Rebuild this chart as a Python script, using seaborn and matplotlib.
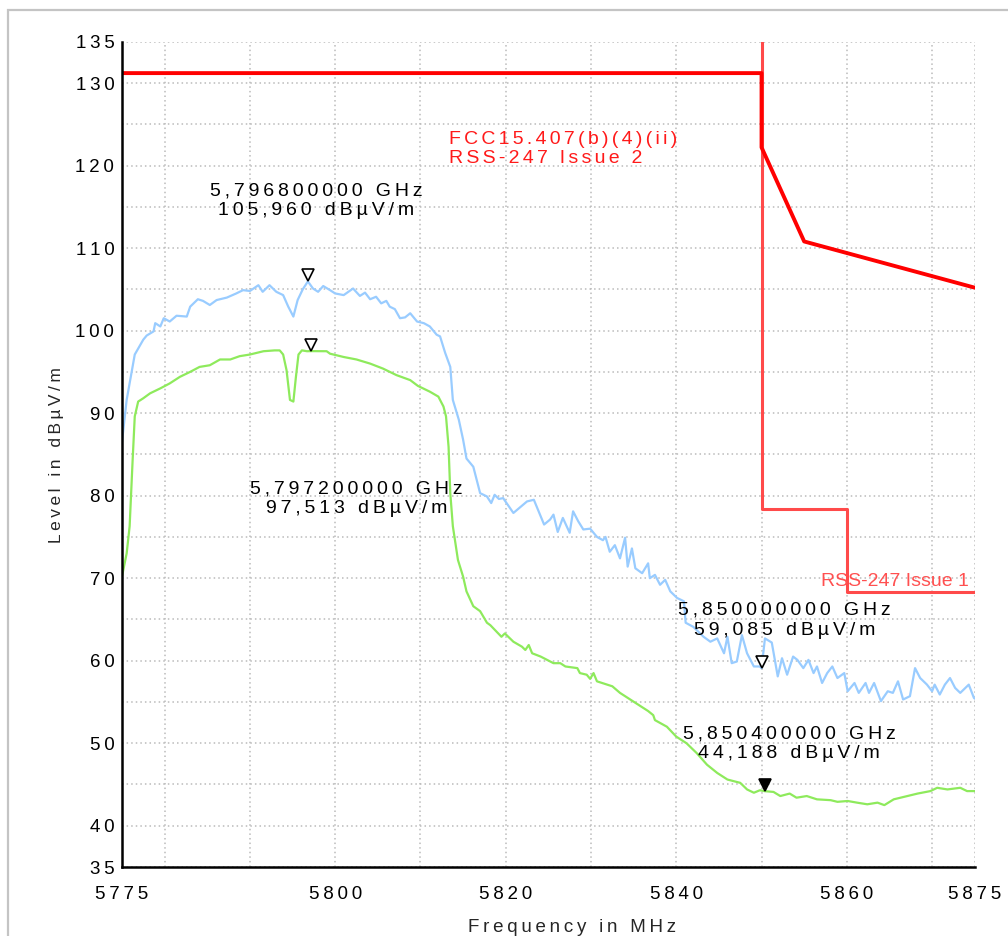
"""
Radiated emission plot - band edge 5775..5875 MHz
peak (blue) and average (green) traces with FCC / RSS-247 limit lines
"""
import pandas as pd
import matplotlib.pyplot as plt
import matplotlib.patches as mpatches
from matplotlib.transforms import offset_copy
import seaborn as sns

BLUE   = "#99CCFF"
GREEN  = "#8EEA5C"
RED    = "#FF0000"
RED2   = "#FF4A4A"
GRID   = "#BBBBBB"
FRAME  = "#C4C4C4"

# ---- data ---------------------------------------------------------------
peak_f = [5775.0, 5775.55, 5776.5, 5777.5, 5777.9, 5778.7, 5778.9, 5779.5, 5779.9, 5780.6,
          5781.4, 5782.6, 5783.0, 5783.9, 5784.5, 5785.3, 5786.1, 5787.3, 5788.4, 5789.2,
          5790.0, 5791.0, 5791.5, 5792.3, 5793.1, 5793.9, 5794.5, 5795.1, 5795.6, 5796.2,
          5796.8, 5797.4, 5798.0, 5798.6, 5799.4, 5800.0, 5801.0, 5802.1, 5802.9, 5803.5,
          5804.1, 5804.8, 5805.4, 5806.0, 5806.4, 5807.0, 5807.6, 5808.2, 5808.8, 5809.6,
          5810.4, 5811.1, 5811.9, 5812.3, 5812.9, 5813.5, 5813.8, 5814.5, 5815.0, 5815.4,
          5816.2, 5817.0, 5817.8, 5818.3, 5818.7, 5819.2, 5819.7, 5820.3, 5820.9, 5821.7,
          5822.5, 5823.3, 5823.7, 5824.5, 5825.2, 5825.6, 5826.1, 5826.7, 5827.5, 5827.9,
          5828.5, 5829.1, 5829.9, 5830.7, 5831.4, 5831.7, 5832.2, 5832.8, 5833.4, 5834.0,
          5834.3, 5834.8, 5835.2, 5836.0, 5836.7, 5836.9, 5837.5, 5838.1, 5838.7, 5839.3,
          5840.1, 5840.9, 5841.1, 5842.0, 5843.2, 5844.0, 5844.8, 5845.6, 5846.0, 5846.5,
          5847.1, 5847.7, 5848.3, 5849.1, 5849.8, 5850.0, 5850.4, 5851.2, 5851.9, 5852.4,
          5853.0, 5853.7, 5854.2, 5854.9, 5855.5, 5856.1, 5856.5, 5857.1, 5857.7, 5858.3,
          5858.9, 5859.7, 5860.1, 5860.9, 5861.4, 5862.2, 5862.6, 5863.2, 5864.0, 5864.8,
          5865.4, 5866.0, 5866.6, 5867.4, 5868.0, 5868.6, 5869.4, 5870.0, 5870.3, 5870.9,
          5871.5, 5872.1, 5872.7, 5873.3, 5874.3, 5874.9, 5875.0]
peak_l = [86.5, 91.6, 97.1, 98.9, 99.4, 99.9, 100.9, 100.5, 101.5, 101.1,
          101.8, 101.7, 102.9, 103.8, 103.6, 103.1, 103.7, 104.0, 104.5, 104.9,
          104.8, 105.5, 104.7, 105.5, 104.7, 104.3, 102.9, 101.7, 103.7, 105.0,
          105.96, 105.1, 104.7, 105.4, 104.9, 104.5, 104.3, 105.1, 104.2, 104.6,
          103.8, 104.1, 103.3, 103.6, 102.9, 102.6, 101.5, 101.6, 102.1, 101.1,
          100.9, 100.5, 99.5, 99.3, 97.3, 95.6, 91.6, 89.2, 86.8, 84.5,
          83.5, 80.3, 79.9, 79.1, 80.1, 79.6, 79.7, 78.8, 77.9, 78.6,
          79.3, 79.5, 78.5, 76.5, 77.1, 77.7, 75.6, 77.3, 75.5, 78.1,
          76.9, 75.9, 76.0, 75.0, 74.6, 75.0, 73.2, 74.0, 72.4, 74.9,
          71.4, 73.6, 71.2, 70.6, 71.8, 70.0, 70.4, 69.2, 69.8, 68.4,
          67.6, 67.2, 64.6, 64.1, 62.9, 62.3, 62.7, 60.9, 62.9, 59.7,
          59.9, 63.1, 60.9, 59.3, 59.3, 59.085, 62.7, 62.2, 58.1, 60.3,
          58.3, 60.5, 60.1, 59.1, 60.1, 58.5, 59.3, 57.3, 58.5, 59.3,
          57.9, 58.5, 56.3, 57.3, 56.1, 57.3, 56.1, 57.3, 55.1, 56.3,
          56.1, 57.5, 55.3, 55.7, 59.1, 57.9, 57.1, 56.3, 57.1, 55.9,
          57.1, 57.9, 56.7, 56.1, 57.1, 55.5, 55.4]

avg_f = [5775.0, 5775.55, 5775.9, 5776.25, 5776.5, 5776.9, 5777.5, 5778.3, 5779.5, 5780.6,
         5781.8, 5783.0, 5784.1, 5785.3, 5786.5, 5787.7, 5788.8, 5790.0, 5791.6, 5792.9,
         5793.5, 5793.9, 5794.3, 5794.7, 5795.1, 5795.4, 5795.7, 5796.1, 5796.7, 5797.2,
         5799.0, 5799.4, 5801.0, 5802.5, 5804.1, 5805.6, 5807.2, 5808.8, 5809.7, 5811.1,
         5812.1, 5812.7, 5813.0, 5813.3, 5813.5, 5813.8, 5814.4, 5815.0, 5815.4, 5816.2,
         5817.0, 5817.8, 5818.2, 5819.5, 5819.9, 5820.9, 5821.9, 5822.3, 5822.7, 5823.1,
         5824.1, 5825.6, 5826.4, 5827.0, 5828.4, 5828.7, 5829.5, 5829.9, 5830.3, 5830.7,
         5831.9, 5832.5, 5833.4, 5834.6, 5835.8, 5836.7, 5837.3, 5837.5, 5838.9, 5840.0,
         5841.2, 5842.4, 5843.6, 5844.8, 5846.0, 5847.5, 5848.3, 5849.1, 5849.8, 5850.4,
         5851.4, 5852.2, 5853.3, 5854.1, 5855.3, 5856.5, 5858.1, 5858.9, 5860.1, 5861.2,
         5862.4, 5863.6, 5864.4, 5865.5, 5867.1, 5868.3, 5869.8, 5870.6, 5871.8, 5873.3,
         5874.1, 5875.0]
avg_l = [70.2, 73.0, 76.3, 84.3, 89.6, 91.4, 91.8, 92.4, 93.0, 93.6,
         94.4, 95.0, 95.6, 95.8, 96.5, 96.5, 96.9, 97.1, 97.5, 97.6,
         97.6, 97.1, 95.2, 91.6, 91.4, 94.4, 97.1, 97.6, 97.5, 97.513,
         97.5, 97.2, 96.8, 96.5, 96.0, 95.4, 94.6, 94.0, 93.3, 92.6,
         92.0, 90.8, 89.6, 85.9, 80.3, 76.3, 72.2, 70.2, 68.4, 66.6,
         66.0, 64.6, 64.3, 62.9, 63.3, 62.3, 61.7, 61.3, 61.9, 60.9,
         60.5, 59.7, 59.7, 59.3, 59.1, 58.5, 58.3, 57.8, 58.5, 57.5,
         57.1, 56.9, 56.1, 55.3, 54.5, 53.9, 53.4, 52.8, 52.0, 50.8,
         50.0, 48.8, 47.4, 46.4, 45.6, 45.2, 44.4, 44.0, 44.3, 44.188,
         44.1, 43.6, 43.9, 43.4, 43.6, 43.2, 43.1, 42.9, 43.0, 42.8,
         42.6, 42.8, 42.5, 43.2, 43.6, 43.9, 44.2, 44.6, 44.4, 44.6,
         44.2, 44.2]

fcc_f = [5775, 5850, 5850, 5855, 5875]
fcc_l = [131.2, 131.2, 122.2, 110.8, 105.2]
rss1_f = [5850, 5850, 5860, 5860, 5875]
rss1_l = [135, 78.4, 78.4, 68.3, 68.3]

# markers: freq (MHz), level, filled?
mk_f = [5796.8, 5797.2, 5850.0, 5850.4]
mk_l = [105.960, 97.513, 59.085, 44.188]
mk_filled = [False, False, False, True]
mk_text = ["5,796800000 GHz\n105,960 dBµV/m",
           "5,797200000 GHz\n97,513 dBµV/m",
           "5,850000000 GHz\n59,085 dBµV/m",
           "5,850400000 GHz\n44,188 dBµV/m"]
mk_offset = [(8, 81), (45, -148), (23, 48), (24, 47)]   # label offset, pixels

x_ticks = [5775, 5780, 5790, 5800, 5810, 5820, 5830, 5840, 5850, 5860, 5870, 5875]
x_tick_labels = ["5775", "", "", "5800", "", "5820", "", "5840", "", "5860", "", "5875"]
y_ticks = list(range(35, 136, 5))
y_tick_labels = ["35", "40", "", "50", "", "60", "", "70", "", "80", "", "90", "",
                 "100", "", "110", "", "120", "", "130", "135"]

FONT = ["Liberation Sans", "DejaVu Sans"]


def sp(s, gap="\u2009"):
    # the analyzer software prints its text letter-spaced
    return "\n".join(gap.join(line) for line in s.split("\n"))


sns.set_style("white")
plt.rcParams["font.family"] = FONT

fig = plt.figure(figsize=(10.08, 9.36), dpi=100)
fig.patch.set_facecolor("white")
ax = fig.add_axes([0.121, 0.0737, 0.846, 0.8817])

peak_df = pd.DataFrame({"f": peak_f, "l": peak_l})
avg_df = pd.DataFrame({"f": avg_f, "l": avg_l})
fcc_df = pd.DataFrame({"f": fcc_f, "l": fcc_l})
rss1_df = pd.DataFrame({"f": rss1_f, "l": rss1_l})

sns.lineplot(data=peak_df, x="f", y="l", color=BLUE, lw=1.6, estimator=None, sort=False, ax=ax)
sns.lineplot(data=avg_df, x="f", y="l", color=GREEN, lw=1.6, estimator=None, sort=False, ax=ax)
sns.lineplot(data=rss1_df, x="f", y="l", color=RED2, lw=2.2, estimator=None, sort=False, ax=ax)
sns.lineplot(data=fcc_df, x="f", y="l", color=RED, lw=2.8, estimator=None, sort=False, ax=ax)

# marker triangles sit just above the trace point
tri = offset_copy(ax.transData, fig=fig, x=0, y=6, units="dots")
for f, l, filled, txt, off in zip(mk_f, mk_l, mk_filled, mk_text, mk_offset):
    ax.plot(f, l, marker="v", ms=9, mec="black", mew=1.2,
            mfc="black" if filled else "white", transform=tri, clip_on=False, zorder=5)
    ax.annotate(sp(txt), xy=(f, l), xytext=off, textcoords="offset pixels",
                ha="center", va="center", fontsize=14, color="black",
                linespacing=1.2, family=FONT, zorder=6)

ax.text(5813.4, 124.2, sp("FCC15.407(b)(4)(ii)\nRSS-247 Issue 2", "\u200a\u200a"),
        color="#FF1A1A", fontsize=14, ha="left", va="top", linespacing=1.2, family=FONT)
ax.text(5857.0, 68.6, "RSS-247 Issue 1", color="#FF5050", fontsize=14,
        ha="left", va="bottom", family=FONT, clip_on=False)

ax.set_xlim(5775, 5875)
ax.set_ylim(35, 135)
ax.set_xticks(x_ticks)
ax.set_xticklabels([sp(t) for t in x_tick_labels])
ax.set_yticks(y_ticks)
ax.set_yticklabels([sp(t) for t in y_tick_labels])
ax.tick_params(axis="both", direction="inout", length=9, width=1.4, colors="black",
               labelsize=13.5)
ax.tick_params(axis="y", pad=1)
ax.tick_params(axis="x", pad=9)
ax.grid(True, color=GRID, linestyle=(0, (1, 2)), linewidth=1.1)
ax.set_xlabel("")
ax.set_ylabel("")

for side in ["top", "right"]:
    ax.spines[side].set_visible(False)
for side in ["left", "bottom"]:
    ax.spines[side].set_color("black")
    ax.spines[side].set_linewidth(1.8)

fig.text(57 / 1008, 1 - 455 / 936, sp("Level in dBµV/m"), rotation=90,
         ha="center", va="center", fontsize=12.5, family=FONT)
fig.text(572 / 1008, 1 - 928 / 936, sp("Frequency in MHz"),
         ha="center", va="center", fontsize=13.5, family=FONT)

# outer frame of the report page
fig.patches.append(mpatches.Rectangle((8 / 1008, -0.1), 1.2, 1.1 - 10 / 936,
                                      transform=fig.transFigure, fill=False,
                                      ec=FRAME, lw=1.6, clip_on=False))

plt.savefig("out.png", dpi=100, facecolor="white")
plt.close()
